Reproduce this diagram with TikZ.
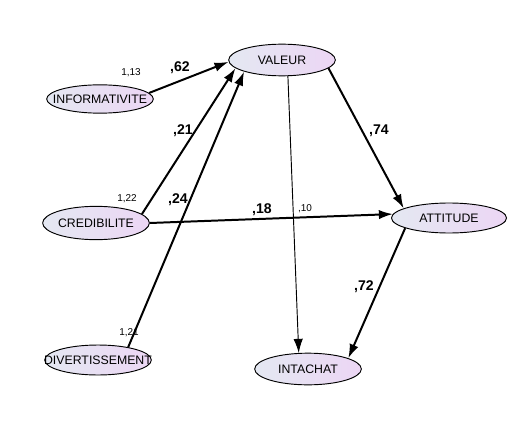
\documentclass[tikz,border=0pt]{standalone}
\usepackage{fontspec}
\setmainfont{Liberation Sans}
\usetikzlibrary{arrows.meta,shapes.geometric}

\definecolor{varleft}{RGB}{228,232,242}
\definecolor{varright}{RGB}{236,214,244}

\newcommand{\varname}[1]{\makebox[0pt]{#1}}

\begin{document}
\begin{tikzpicture}[x=0.03cm, y=-0.03cm,
  varnode/.style={ellipse, draw, line width=0.8pt, inner sep=0pt,
    minimum width=3.2cm, minimum height=0.95cm,
    left color=varleft, right color=varright,
    font=\fontsize{10.5}{12}\selectfont},
  link/.style={-{Latex[length=12pt,width=8pt]}, line width=1.7pt},
  thinlink/.style={-{Latex[length=12pt,width=8pt]}, line width=0.8pt},
  coef/.style={font=\bfseries\fontsize{12}{14}\selectfont},
  varlabel/.style={font=\fontsize{8.5}{10}\selectfont}]

\useasboundingbox (0,0) rectangle (517,428);

% Exogenous variables
\node[varnode, minimum height=0.85cm] (info) at (100,99) {\varname{INFORMATIVITE}};
\node[varnode, minimum height=1.0cm] (cred) at (96,223) {\varname{CREDIBILITE}};
\node[varnode, minimum height=0.9cm] (div) at (98,360) {\varname{DIVERTISSEMENT}};

% Endogenous variables
\node[varnode] (val) at (282,60) {\varname{VALEUR}};
\node[varnode, minimum width=3.45cm, minimum height=0.9cm] (att) at (449,218) {\varname{ATTITUDE}};
\node[varnode] (intachat) at (308,369) {\varname{INTACHAT}};

% Variances
\node[varlabel] (v1) at (131,73) {1,13};
\node[varlabel] (v2) at (127,199) {1,22};
\node[varlabel] (v3) at (129,333) {1,21};

% Paths
\draw[link] (info.7) -- (val.182);
\draw[link] (cred.11) -- (val.190);
\draw[link] (div.23) -- (val.197);
\draw[link] (cred.east) -- (att.176);
\draw[link] (val.-10) -- (att.168);
\draw[thinlink] (val.290) -- (intachat.120);
\draw[link] (att.193) -- (intachat.15);

% Coefficients
\node[coef] (c1) at (180,68) {,62};
\node[coef] (c2) at (183,131) {,21};
\node[coef] (c3) at (178,200) {,24};
\node[coef] (c4) at (262,210) {,18};
\node[varlabel] (c5) at (305,209) {,10};
\node[coef] (c6) at (379,131) {,74};
\node[coef] (c7) at (364,287) {,72};

\end{tikzpicture}
\end{document}
